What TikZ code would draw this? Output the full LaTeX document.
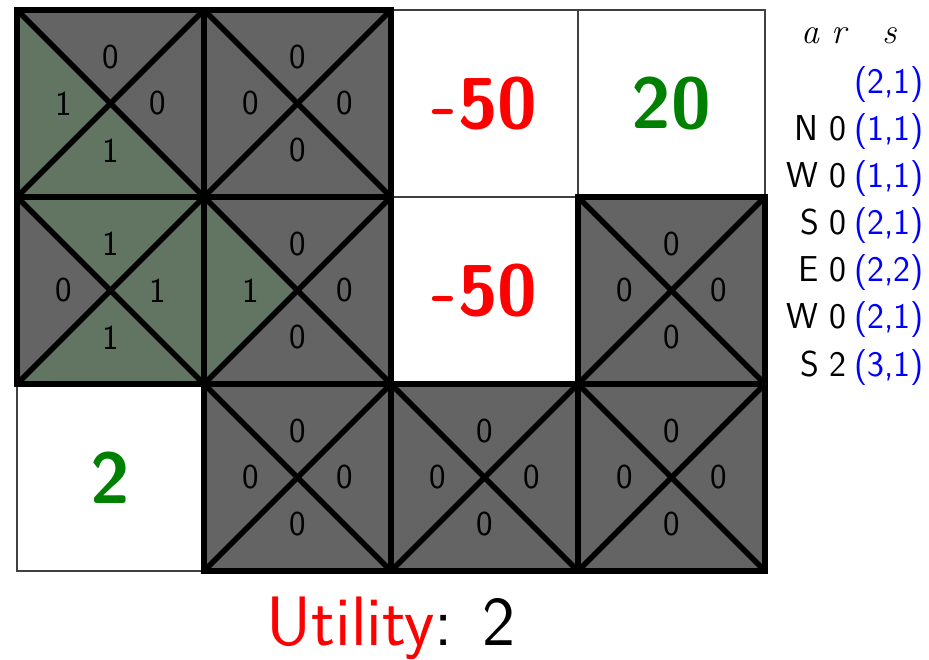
\documentclass[tikz,border=0pt]{standalone}
\usepackage{fontspec}
\definecolor{cellgray}{RGB}{100,100,100}
\definecolor{cellgreen}{RGB}{98,116,98}
\definecolor{dgreen}{RGB}{0,128,0}
\tikzset{
  thickline/.style={line width=5.5pt, black, line join=miter},
  thinline/.style={line width=1.2pt, black!75},
  qlabel/.style={font=\fontsize{35}{40}\selectfont\sffamily, inner sep=0pt},
  bignum/.style={font=\fontsize{72}{80}\selectfont\sffamily\bfseries, inner sep=0pt},
  sidetext/.style={font=\fontsize{36}{40}\selectfont\sffamily, inner sep=0pt},
  headtext/.style={font=\fontsize{36}{40}\selectfont\rmfamily\itshape, inner sep=0pt},
}
\newcommand\mytri[2]{\ifnum#1=1 \fill[cellgreen] #2;\else\fill[cellgray] #2;\fi}
% name, x, y, T, L, R, B
\newcommand\gfill[7]{%
  \begin{scope}[shift={(#2,#3)}]
    \mytri{#4}{(0,0) -- (187,0) -- (93.5,93.5) -- cycle}
    \mytri{#5}{(0,0) -- (0,187) -- (93.5,93.5) -- cycle}
    \mytri{#6}{(187,0) -- (187,187) -- (93.5,93.5) -- cycle}
    \mytri{#7}{(0,187) -- (187,187) -- (93.5,93.5) -- cycle}
  \end{scope}}
\newcommand\glines[7]{%
  \begin{scope}[shift={(#2,#3)}]
    \draw[thickline] (0,0) rectangle (187,187);
    \draw[thickline] (0,0) -- (187,187);
    \draw[thickline] (187,0) -- (0,187);
    \node[qlabel] (#1t) at (93.5,46.75) {#4};
    \node[qlabel] (#1l) at (46.75,93.5) {#5};
    \node[qlabel] (#1r) at (140.25,93.5) {#6};
    \node[qlabel] (#1b) at (93.5,140.25) {#7};
  \end{scope}}
\begin{document}
\begin{tikzpicture}[x=1pt,y=-1pt]
\useasboundingbox (0,0) rectangle (929,660);
% white cells
\draw[thinline] (391,10) rectangle (578,197);
\draw[thinline] (578,10) rectangle (765,197);
\draw[thinline] (391,197) rectangle (578,384);
\draw[thinline] (17,384) rectangle (204,571);
\node[bignum, text=red] (m31) at (484.5,103.5) {-50};
\node[bignum, text=dgreen] (p41) at (671.5,103.5) {20};
\node[bignum, text=red] (m32) at (484.5,290.5) {-50};
\node[bignum, text=dgreen] (p13) at (110.5,477.5) {2};
% gray cells fills
\gfill{a}{17}{10}{0}{1}{0}{1}
\gfill{b}{204}{10}{0}{0}{0}{0}
\gfill{c}{17}{197}{1}{0}{1}{1}
\gfill{d}{204}{197}{0}{1}{0}{0}
\gfill{e}{578}{197}{0}{0}{0}{0}
\gfill{f}{204}{384}{0}{0}{0}{0}
\gfill{g}{391}{384}{0}{0}{0}{0}
\gfill{h}{578}{384}{0}{0}{0}{0}
% gray cells lines and labels
\glines{a}{17}{10}{0}{1}{0}{1}
\glines{b}{204}{10}{0}{0}{0}{0}
\glines{c}{17}{197}{1}{0}{1}{1}
\glines{d}{204}{197}{0}{1}{0}{0}
\glines{e}{578}{197}{0}{0}{0}{0}
\glines{f}{204}{384}{0}{0}{0}{0}
\glines{g}{391}{384}{0}{0}{0}{0}
\glines{h}{578}{384}{0}{0}{0}{0}
% side table
\node[headtext, anchor=base] (ha) at (810,44) {a};
\node[headtext, anchor=base] (hr) at (839,44) {r};
\node[headtext, anchor=base] (hs) at (890,44) {s};
\node[sidetext, anchor=base east, text=blue] (s0) at (924,94) {(2,1)};
\foreach \i/\act/\rew/\st in {1/N/0/{(1,1)},2/W/0/{(1,1)},3/S/0/{(2,1)},4/E/0/{(2,2)},5/W/0/{(2,1)},6/S/2/{(3,1)}}{
  \node[sidetext, anchor=base east] (a\i) at (819,94+47*\i) {\act};
  \node[sidetext, anchor=base] (r\i) at (838,94+47*\i) {\rew};
  \node[sidetext, anchor=base east, text=blue] (s\i) at (924,94+47*\i) {\st};
}
% utility
\node[font=\fontsize{70}{80}\selectfont\sffamily, anchor=base, inner sep=0pt] (util) at (391,645) {\textcolor{red}{Utility}: 2};
\end{tikzpicture}
\end{document}
